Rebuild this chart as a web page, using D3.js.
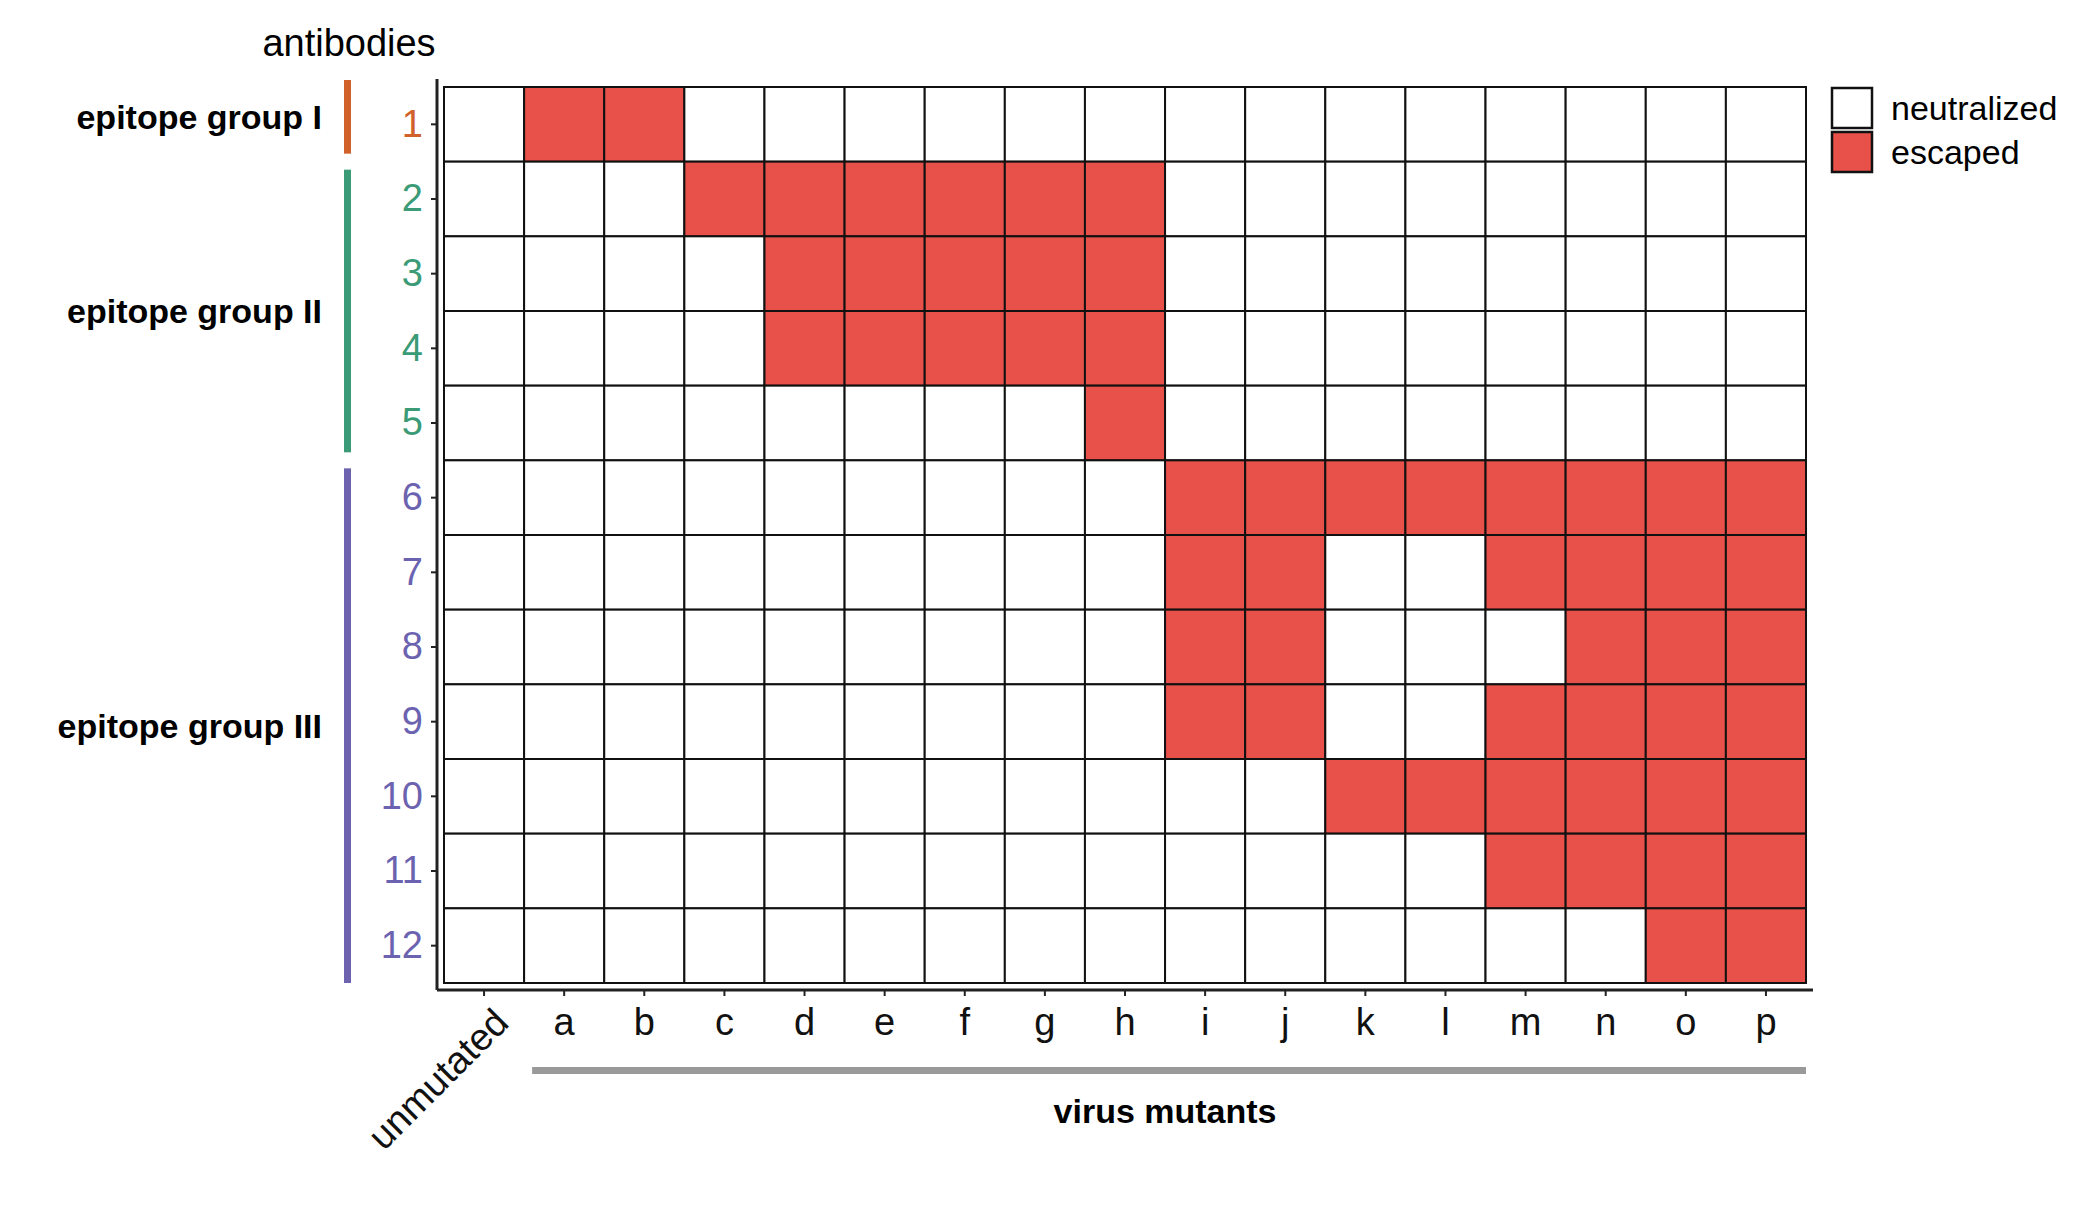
<!DOCTYPE html>
<html><head><meta charset="utf-8">
<script src="https://cdn.jsdelivr.net/npm/d3@7"></script>
<style>body{margin:0;background:#fff}svg{font-family:"Liberation Sans",Arial,sans-serif}</style>
</head><body><svg id="c" width="2088" height="1222"></svg>
<script>
const mutants = ["unmutated","a","b","c","d","e","f","g","h","i","j","k","l","m","n","o","p"];
const antibodies = ["1","2","3","4","5","6","7","8","9","10","11","12"];
const escaped = {
 "1":["a","b"],
 "2":["c","d","e","f","g","h"],
 "3":["d","e","f","g","h"],
 "4":["d","e","f","g","h"],
 "5":["h"],
 "6":["i","j","k","l","m","n","o","p"],
 "7":["i","j","m","n","o","p"],
 "8":["i","j","n","o","p"],
 "9":["i","j","m","n","o","p"],
 "10":["k","l","m","n","o","p"],
 "11":["m","n","o","p"],
 "12":["o","p"]
};
const groups = [
 {name:"epitope group I", first:"1", last:"1", color:"#D0612B"},
 {name:"epitope group II", first:"2", last:"5", color:"#3A9B76"},
 {name:"epitope group III", first:"6", last:"12", color:"#6B63B0"}
];
const legendItems = [{label:"neutralized", esc:false},{label:"escaped", esc:true}];
const RED="#E8504A";

const svg=d3.select("#c");
const L=444,R=1806,T=87,B=983;
const x=d3.scaleBand().domain(mutants).range([L,R]);
const y=d3.scaleBand().domain(antibodies).range([T,B]);
const cells=[];
antibodies.forEach(a=>mutants.forEach(m=>cells.push({a,m,e:escaped[a].includes(m)})));
svg.append("g").selectAll("rect").data(cells).join("rect")
 .attr("x",d=>x(d.m)).attr("y",d=>y(d.a)).attr("width",x.bandwidth()).attr("height",y.bandwidth())
 .attr("fill",d=>d.e?RED:"#fff").attr("stroke","#111").attr("stroke-width",2);

// axes
const colorOf=a=>groups.find(g=>+a>=+g.first&&+a<=+g.last).color;
const ya=svg.append("g").attr("transform",`translate(${L-7},0)`).call(d3.axisLeft(y).tickSize(6).tickPadding(8));
ya.select(".domain").attr("d",`M0,${T-8}V${B+7}`).attr("stroke","#222").attr("stroke-width",3);
ya.selectAll(".tick line").attr("stroke","#222").attr("stroke-width",2);
ya.selectAll(".tick text").attr("font-size",38).attr("fill",d=>colorOf(d));
const xa=svg.append("g").attr("transform",`translate(0,${B+7})`).call(d3.axisBottom(x).tickSize(6).tickPadding(12));
xa.select(".domain").attr("d",`M${L-7},0H${R+7}`).attr("stroke","#222").attr("stroke-width",3);
xa.selectAll(".tick line").attr("stroke","#222").attr("stroke-width",2);
xa.selectAll(".tick text").attr("font-size",38).attr("fill","#111");
xa.selectAll(".tick text").filter(d=>d==="unmutated")
 .attr("text-anchor","end").attr("dy",0).attr("transform","translate(14,22) rotate(-45)");

svg.append("text").attr("x",349).attr("y",56).attr("text-anchor","middle").attr("font-size",38).text("antibodies");

groups.forEach(g=>{
 const y0=y(g.first)-(g.first==="1"?7:0)+(g.first==="1"?0:8), y1=y(g.last)+y.bandwidth()-(g.last==="12"?0:8);
 svg.append("rect").attr("x",344).attr("y",y0).attr("width",7).attr("height",y1-y0).attr("fill",g.color);
 svg.append("text").attr("x",322).attr("y",(y0+y1)/2).attr("dy","0.35em").attr("text-anchor","end")
  .attr("font-size",34).attr("font-weight","bold").text(g.name);
});

svg.append("rect").attr("x",x("a")+8).attr("y",1067).attr("width",R-x("a")-8).attr("height",7).attr("fill","#999");
svg.append("text").attr("x",(x("a")+R)/2).attr("y",1111).attr("dy","0.35em").attr("text-anchor","middle")
 .attr("font-size",34).attr("font-weight","bold").text("virus mutants");

const lg=svg.append("g").selectAll("g").data(legendItems).join("g")
 .attr("transform",(d,i)=>`translate(1832,${88+i*44})`);
lg.append("rect").attr("width",40).attr("height",40).attr("fill",d=>d.esc?RED:"#fff").attr("stroke","#111").attr("stroke-width",2.5);
lg.append("text").attr("x",59).attr("y",20).attr("dy","0.35em").attr("font-size",34).text(d=>d.label);
</script></body></html>
